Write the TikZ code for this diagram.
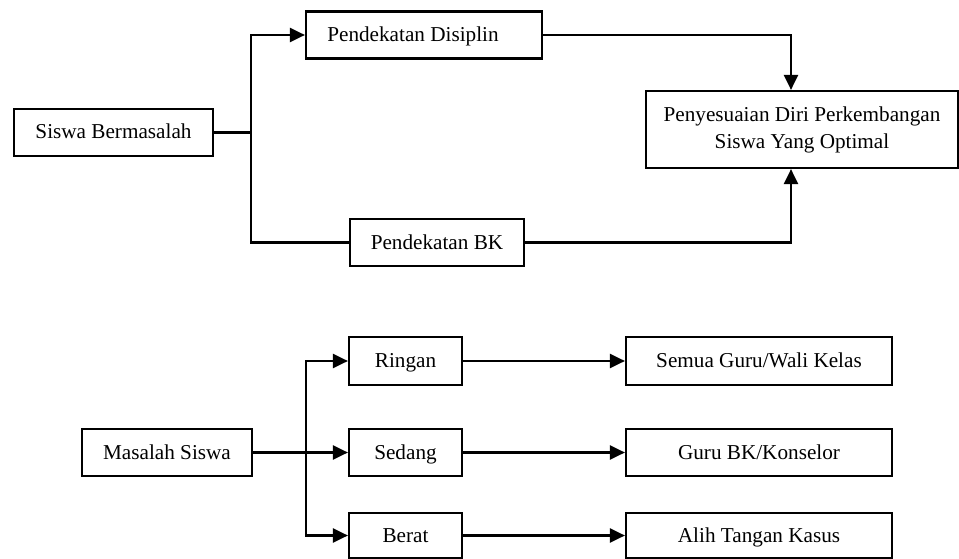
\documentclass[tikz,border=0pt]{standalone}
\usepackage{fontspec}
\setmainfont{Liberation Serif}
\usetikzlibrary{arrows.meta}
\begin{document}
\begin{tikzpicture}[x=1pt,y=-1pt,
  boxbase/.style={draw,line width=2.2pt,inner sep=0pt,
    font=\fontsize{21.2}{27}\selectfont},
  box/.style={boxbase,text height=16pt,text depth=3pt},
  twobox/.style={boxbase,align=center},
  conn/.style={line width=2.2pt},
  arr/.style={conn,-{Triangle[length=15pt,width=14pt]}}]
\useasboundingbox (0,0) rectangle (959,559);
% top diagram
\node[box,minimum width=199pt,minimum height=47pt] (sb) at (113.5,132.5) {Siswa Bermasalah};
\node[box,minimum width=236pt,minimum height=47pt] (dis) at (424,35) {\hspace*{-22pt}Pendekatan Disiplin};
\node[box,minimum width=174pt,minimum height=47pt] (bk) at (437,242.5) {Pendekatan BK};
\node[twobox,minimum width=312pt,minimum height=77pt] (pen) at (802,129.5) {Penyesuaian Diri Perkembangan\\Siswa Yang Optimal};
\coordinate (j1) at (251,0);
\coordinate (j2) at (791,0);
\draw[arr] (sb.east) -- (j1 |- sb.east) -- (j1 |- dis.west) -- (dis.west);
\draw[conn] (j1 |- sb.east) -- (j1 |- bk.west) -- (bk.west);
\draw[arr] (dis.east) -- (j2 |- dis.east) -- (j2 |- pen.north);
\draw[arr] (bk.east) -- (j2 |- bk.east) -- (j2 |- pen.south);
% bottom diagram
\node[box,minimum width=170pt,minimum height=47pt] (ms) at (167,452.5) {Masalah Siswa};
\node[box,minimum width=113pt,minimum height=48pt] (rin) at (405.5,361) {Ringan};
\node[box,minimum width=113pt,minimum height=47pt] (sed) at (405.5,452.5) {Sedang};
\node[box,minimum width=113pt,minimum height=45pt] (ber) at (405.5,535.5) {Berat};
\node[box,minimum width=266pt,minimum height=48pt] (sg) at (759,361) {Semua Guru/Wali Kelas};
\node[box,minimum width=266pt,minimum height=47pt] (gb) at (759,452.5) {Guru BK/Konselor};
\node[box,minimum width=266pt,minimum height=45pt] (at) at (759,535.5) {Alih Tangan Kasus};
\coordinate (j3) at (306,0);
\draw[arr] (ms.east) -- (sed.west);
\draw[arr] (j3 |- sed.west) -- (j3 |- rin.west) -- (rin.west);
\draw[arr] (j3 |- sed.west) -- (j3 |- ber.west) -- (ber.west);
\draw[arr] (rin.east) -- (sg.west);
\draw[arr] (sed.east) -- (gb.west);
\draw[arr] (ber.east) -- (at.west);
\end{tikzpicture}
\end{document}
